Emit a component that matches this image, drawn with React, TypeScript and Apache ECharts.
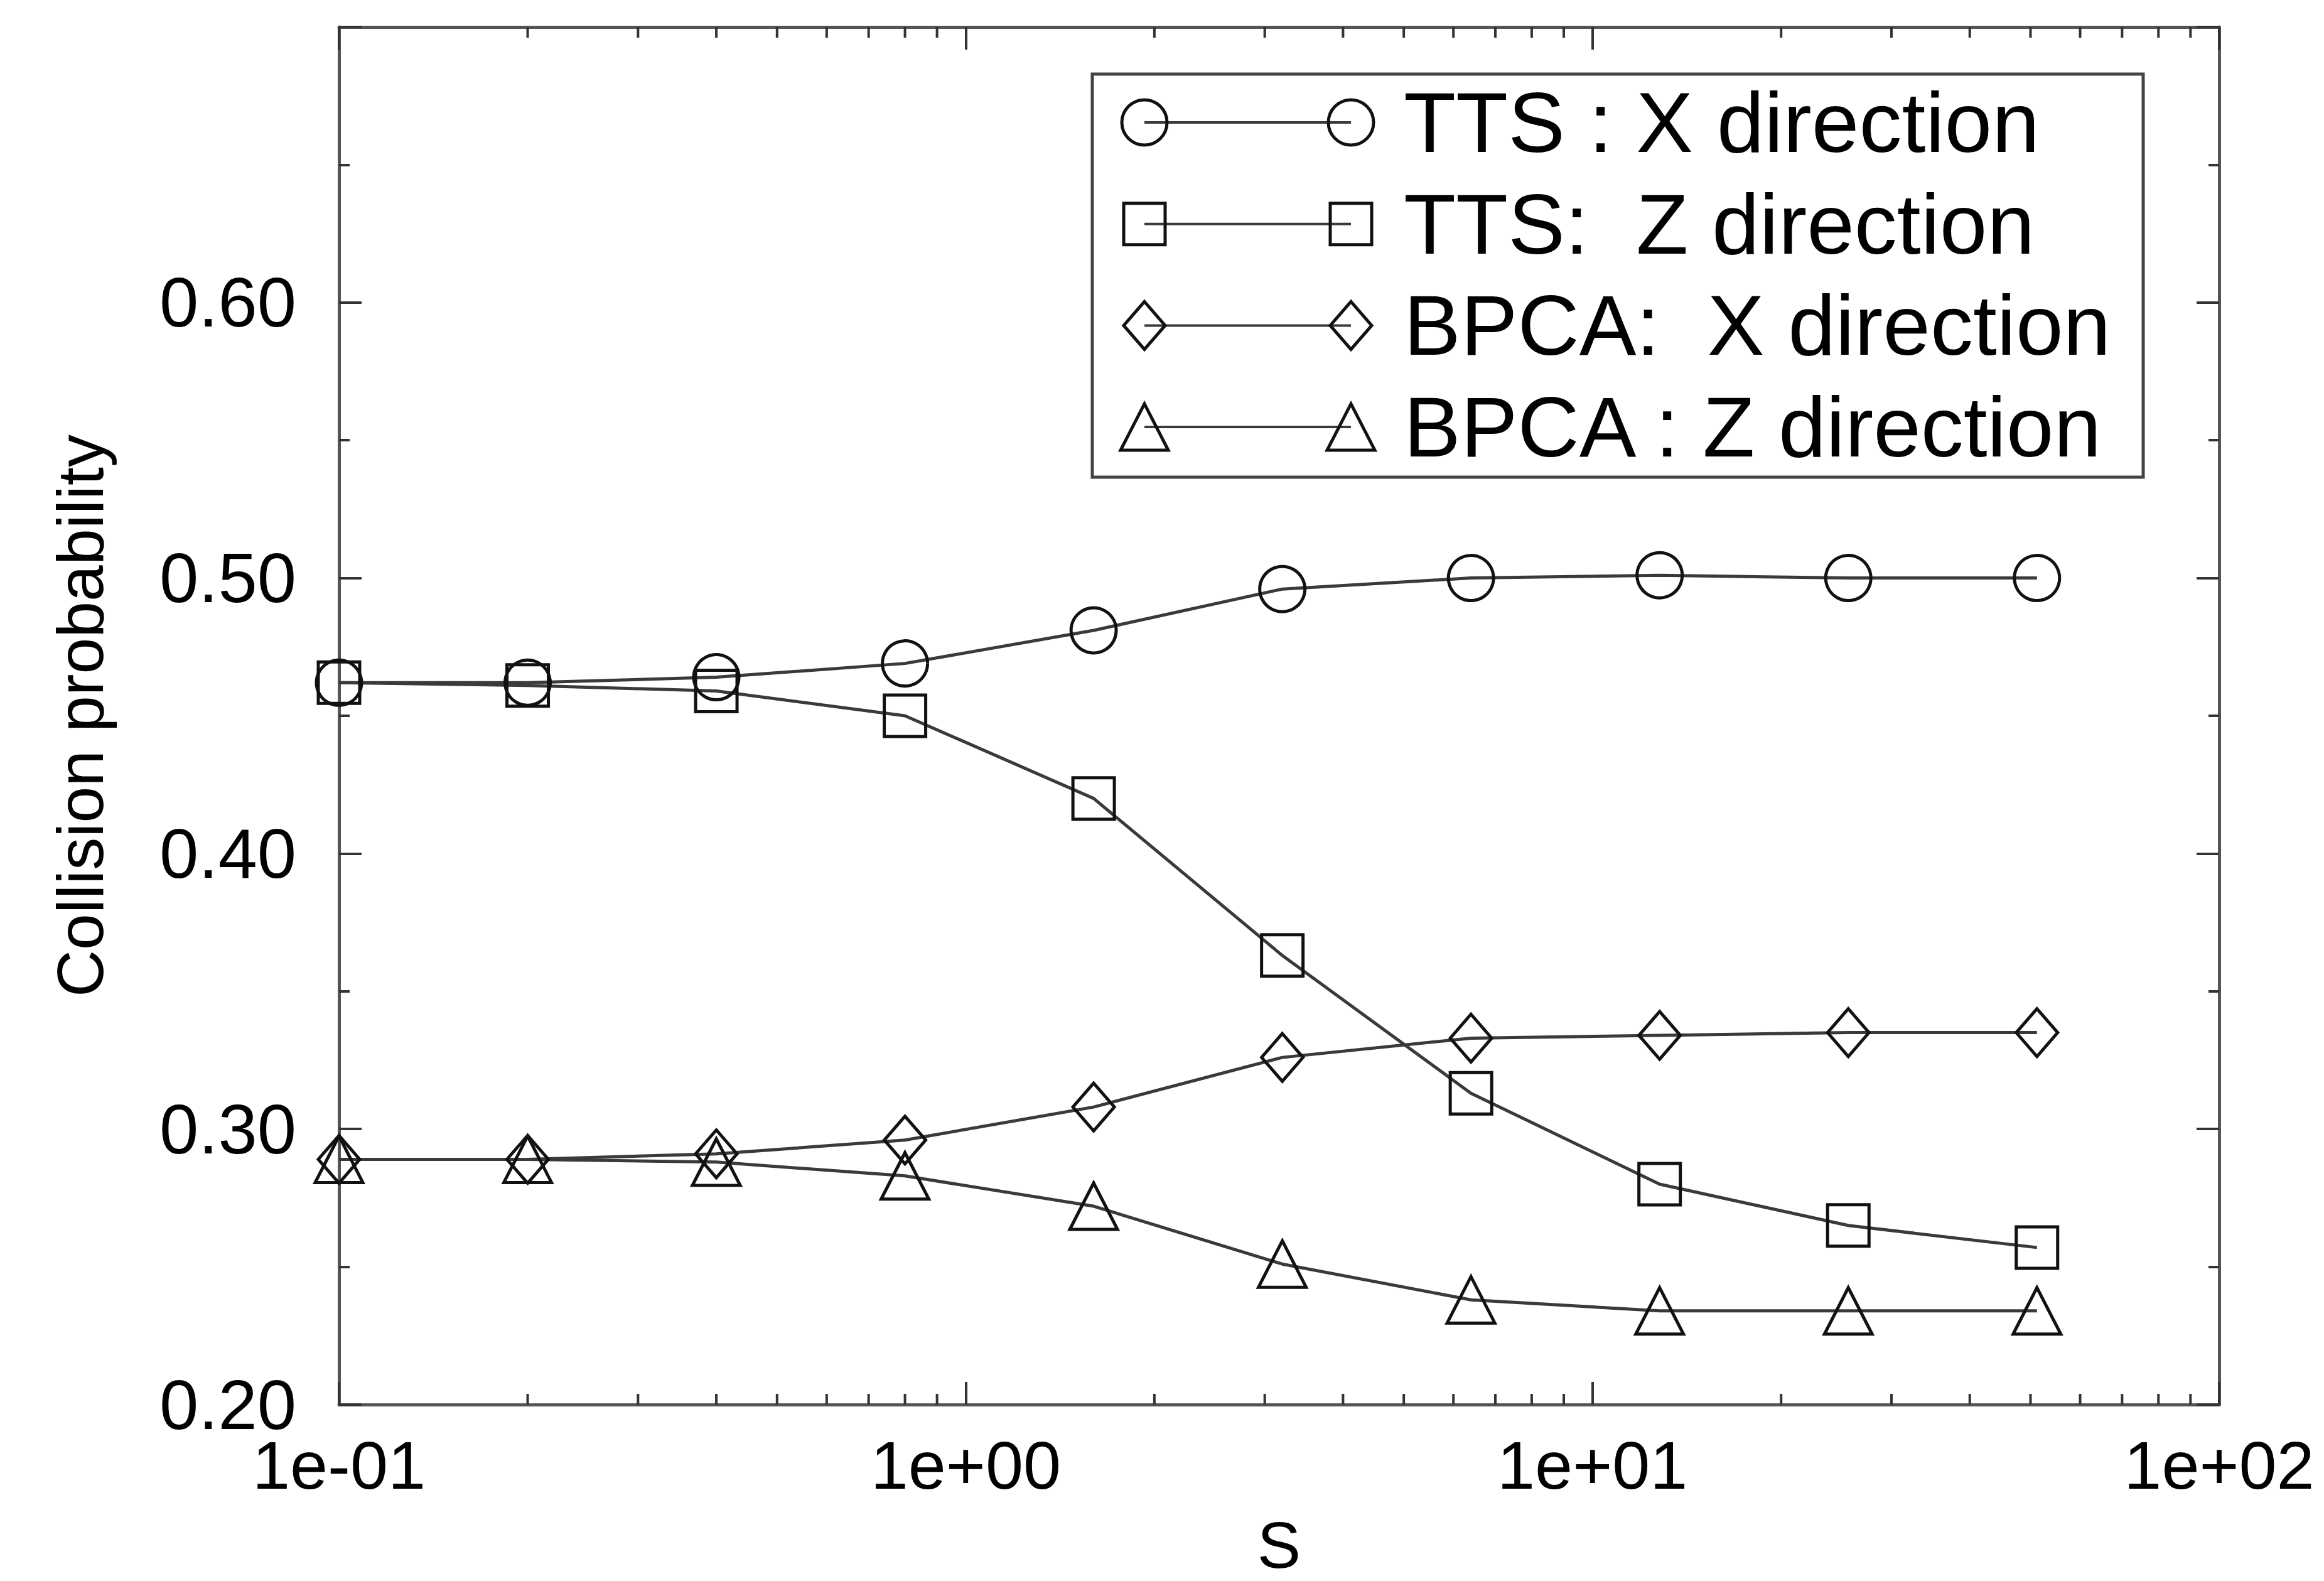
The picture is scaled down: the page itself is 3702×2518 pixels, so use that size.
import React, { useEffect, useRef } from "react";
import * as echarts from "echarts";

// ---- data ----
const S_VALUES = [0.1, 0.2, 0.4, 0.8, 1.6, 3.2, 6.4, 12.8, 25.6, 51.2];
const TTS_X = [0.462, 0.462, 0.464, 0.469, 0.481, 0.496, 0.5, 0.501, 0.5, 0.5];
const TTS_Z = [0.462, 0.461, 0.459, 0.45, 0.42, 0.363, 0.313, 0.28, 0.265, 0.257];
const BPCA_X = [0.289, 0.289, 0.291, 0.296, 0.308, 0.326, 0.333, 0.334, 0.335, 0.335];
const BPCA_Z = [0.289, 0.289, 0.288, 0.283, 0.272, 0.251, 0.238, 0.234, 0.234, 0.234];

const SERIES_NAMES = [
  "TTS : X direction",
  "TTS:  Z direction",
  "BPCA:  X direction",
  "BPCA : Z direction",
];
const SERIES_VALUES = [TTS_X, TTS_Z, BPCA_X, BPCA_Z];
const SERIES_SYMBOLS = ["circle", "rect", "diamond", "triangle"];
const SYMBOL_SIZES: any[] = [[72, 72], [66, 66], [66, 76], [76, 74]];

// log-axis minor tick positions (2..9 in each decade)
const LOG_MINOR_TICKS = [
  0.2, 0.3, 0.4, 0.5, 0.6, 0.7, 0.8, 0.9,
  2, 3, 4, 5, 6, 7, 8, 9,
  20, 30, 40, 50, 60, 70, 80, 90,
];

const X_MIN = 0.1;
const X_MAX = 100;
const Y_MIN = 0.2;
const Y_MAX = 0.7;
const Y_STEP = 0.1;

const FONT = '"Liberation Sans", Arial, Helvetica, sans-serif';
const AXIS_COLOR = "#555";
const TICK_COLOR = "#333";
const LINE_COLOR = "#3a3a3a";
const MARK_COLOR = "#111";

function expLabel(v: number) {
  const e = Math.round(Math.log10(v));
  const sign = e < 0 ? "-" : "+";
  return "1e" + sign + String(Math.abs(e)).padStart(2, "0");
}

function legendSymbol(kind: string, cx: number, cy: number) {
  const style = { fill: "none", stroke: MARK_COLOR, lineWidth: 5 };
  if (kind === "circle") {
    return { type: "ellipse", shape: { cx, cy, rx: 36, ry: 36 }, style };
  }
  if (kind === "rect") {
    return { type: "rect", shape: { x: cx - 33, y: cy - 33, width: 66, height: 66 }, style };
  }
  if (kind === "diamond") {
    return {
      type: "polygon",
      shape: { points: [[cx, cy - 38], [cx + 33, cy], [cx, cy + 38], [cx - 33, cy]] },
      style,
    };
  }
  return {
    type: "polygon",
    shape: { points: [[cx, cy - 37], [cx + 38, cy + 37], [cx - 38, cy + 37]] },
    style,
  };
}

function buildLegend() {
  const boxX = 1740, boxY = 118, boxW = 1674, boxH = 642;
  const firstRow = 195, rowStep = 161.7;
  const symL = 1823, symR = 2152, textX = 2236;
  const children: any[] = [
    {
      type: "rect",
      shape: { x: boxX, y: boxY, width: boxW, height: boxH },
      style: { fill: "#fff", stroke: "#444", lineWidth: 5 },
    },
  ];
  SERIES_NAMES.forEach((name, i) => {
    const cy = firstRow + i * rowStep;
    children.push({
      type: "line",
      shape: { x1: symL, y1: cy, x2: symR, y2: cy },
      style: { stroke: LINE_COLOR, lineWidth: 4 },
    });
    children.push(legendSymbol(SERIES_SYMBOLS[i], symL, cy));
    children.push(legendSymbol(SERIES_SYMBOLS[i], symR, cy));
    children.push({
      type: "text",
      style: {
        text: name,
        x: textX,
        y: cy,
        verticalAlign: "middle",
        align: "left",
        fill: "#000",
        font: `136px ${FONT}`,
      },
    });
  });
  return [{ type: "group", z: 100, children }];
}

export default function App() {
  const ref = useRef<HTMLDivElement>(null);

  useEffect(() => {
    if (!ref.current) return;
    const chart = echarts.init(ref.current, undefined, { renderer: "svg" });

    const lineSeries = SERIES_NAMES.map((name, i) => ({
      name,
      type: "line",
      data: S_VALUES.map((s, j) => [s, SERIES_VALUES[i][j]]),
      symbol: SERIES_SYMBOLS[i],
      symbolSize: SYMBOL_SIZES[i],
      showSymbol: true,
      lineStyle: { color: LINE_COLOR, width: 5 },
      itemStyle: { color: "rgba(0,0,0,0)", borderColor: MARK_COLOR, borderWidth: 5 },
      emphasis: { disabled: true },
      z: 3,
    }));

    const minorTickSeries = {
      type: "custom",
      silent: true,
      clip: false,
      z: 1,
      data: LOG_MINOR_TICKS.map((v) => [v, Y_MIN]),
      encode: { x: 0, y: 1 },
      renderItem: (_params: any, api: any) => {
        const x = api.value(0);
        const pb = api.coord([x, Y_MIN]);
        const pt = api.coord([x, Y_MAX]);
        const st = { stroke: TICK_COLOR, lineWidth: 4 };
        return {
          type: "group",
          children: [
            { type: "line", shape: { x1: pb[0], y1: pb[1], x2: pb[0], y2: pb[1] - 17 }, style: st },
            { type: "line", shape: { x1: pt[0], y1: pt[1], x2: pt[0], y2: pt[1] + 17 }, style: st },
          ],
        };
      },
    };

    const xCommon = {
      type: "log",
      logBase: 10,
      min: X_MIN,
      max: X_MAX,
      splitLine: { show: false },
      axisLine: { show: true, lineStyle: { color: AXIS_COLOR, width: 5 } },
      axisTick: { show: true, inside: true, length: 36, lineStyle: { color: TICK_COLOR, width: 4 } },
      minorTick: { show: false },
    };
    const yCommon = {
      type: "value",
      min: Y_MIN,
      max: Y_MAX,
      interval: Y_STEP,
      splitLine: { show: false },
      axisLine: { show: true, lineStyle: { color: AXIS_COLOR, width: 5 } },
      axisTick: { show: true, inside: true, length: 36, lineStyle: { color: TICK_COLOR, width: 4 } },
      minorTick: { show: true, splitNumber: 2, length: 17, lineStyle: { color: TICK_COLOR, width: 4 } },
      minorSplitLine: { show: false },
    };

    chart.setOption({
      animation: false,
      backgroundColor: "#fff",
      textStyle: { fontFamily: FONT },
      grid: { left: 540, top: 43, right: 167, bottom: 279, containLabel: false },
      xAxis: [
        {
          ...xCommon,
          position: "bottom",
          name: "S",
          nameLocation: "middle",
          nameGap: 172,
          nameTextStyle: { fontSize: 104, color: "#000", fontFamily: FONT },
          axisLabel: {
            show: true,
            formatter: (v: number) => expLabel(v),
            fontSize: 108,
            lineHeight: 70,
            color: "#000",
            margin: 61,
            fontFamily: FONT,
          },
        },
        { ...xCommon, position: "top", axisLabel: { show: false } },
      ],
      yAxis: [
        {
          ...yCommon,
          position: "left",
          name: "Collision probability",
          nameLocation: "middle",
          nameRotate: 90,
          nameGap: 360,
          nameTextStyle: { fontSize: 104, color: "#000", fontFamily: FONT },
          axisLabel: {
            show: true,
            formatter: (v: number) => (v > Y_MAX - 0.001 ? "" : v.toFixed(2)),
            fontSize: 112,
            lineHeight: 80,
            color: "#000",
            margin: 68,
            fontFamily: FONT,
          },
        },
        { ...yCommon, position: "right", axisLabel: { show: false } },
      ],
      series: [minorTickSeries, ...lineSeries],
      graphic: buildLegend(),
    });

    return () => chart.dispose();
  }, []);

  return (
    <div
      ref={ref}
      style={{ position: "absolute", left: 0, top: 0, width: 3702, height: 2518, background: "#fff" }}
    />
  );
}
